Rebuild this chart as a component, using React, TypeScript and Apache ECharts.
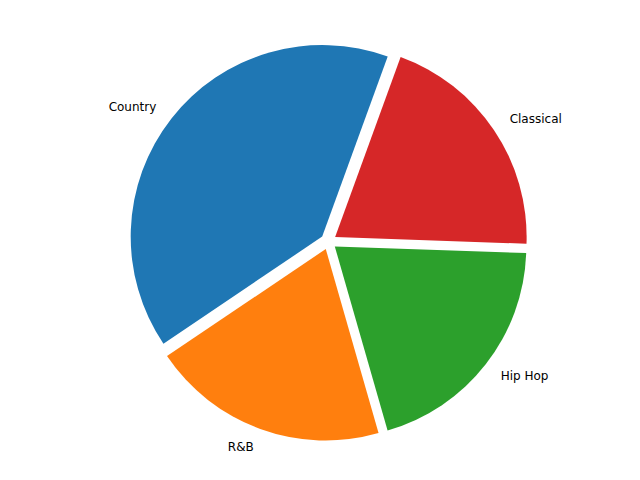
import React, { useEffect, useRef } from "react";
import * as echarts from "echarts";

const categories = ["Country", "R&B", "Hip Hop", "Classical"];
const values = [40, 20, 20, 20];
const colors = ["#1f77b4", "#ff7f0e", "#2ca02c", "#d62728"];

export default function App() {
  const ref = useRef<HTMLDivElement>(null);
  useEffect(() => {
    if (!ref.current) return;
    const chart = echarts.init(ref.current, undefined, { renderer: "svg" });
    chart.setOption({
      animation: false,
      backgroundColor: "#ffffff",
      series: [
        {
          type: "pie",
          center: [328.5, 241.5],
          radius: 191.5,
          startAngle: 70,
          clockwise: false,
          selectedMode: "multiple",
          selectedOffset: 8,
          avoidLabelOverlap: false,
          itemStyle: { borderWidth: 0 },
          emphasis: { disabled: true },
          label: {
            show: true,
            position: "outside",
            formatter: "{b}",
            color: "#000000",
            fontFamily: "DejaVu Sans",
            fontSize: 12,
            distanceToLabelLine: 0,
          },
          labelLine: { show: false, length: 19, length2: 0 },
          data: categories.map((name, i) => ({
            name,
            value: values[i],
            selected: true,
            itemStyle: { color: colors[i] },
          })),
        },
      ],
    });
    return () => chart.dispose();
  }, []);
  return (
    <div
      ref={ref}
      style={{ position: "fixed", left: 0, top: 0, width: 640, height: 480 }}
    />
  );
}
